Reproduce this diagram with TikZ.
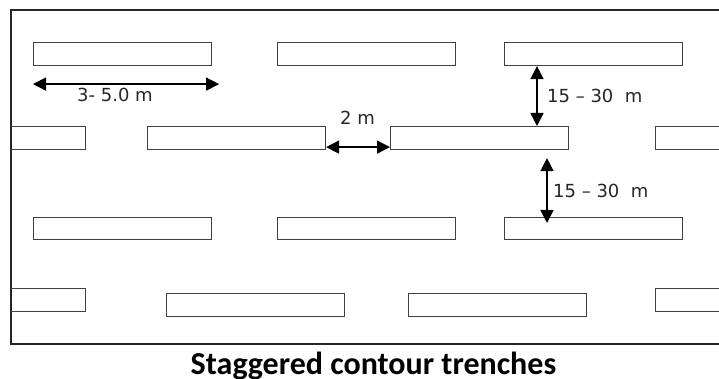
\documentclass[tikz,border=0pt]{standalone}
\usepackage{fontspec}
\setmainfont{DejaVu Sans}
\newfontfamily\captionfont{Carlito}
\usetikzlibrary{arrows.meta,positioning}

\begin{document}
\begin{tikzpicture}[
    x=1pt, y=-1pt,
    every node/.style={font=\fontsize{18}{20}\selectfont, inner sep=0pt},
    trench/.style={
      draw=black!75, line width=1.1pt,
      minimum width=178pt, minimum height=23pt,
      anchor=north west
    },
    boundary/.style={draw=black!85, line width=1.1pt},
    arrow/.style={
      {Triangle[length=13pt,width=13pt]}-{Triangle[length=13pt,width=13pt]},
      line width=1.5pt, black
    },
    dimlabel/.style={anchor=base west, text=black!85}
  ]
  \useasboundingbox (0,0) rectangle (719,379);
  \fill[white] (0,0) rectangle (719,379);

  % field boundary, open on the right
  \draw[boundary] (725,10) -- (11,10) -- (11,344) -- (725,344);

  \begin{scope}
    \clip (11,10) rectangle (719,344);
    % first line of trenches
    \node[trench] (r1a) at (33,42) {};
    \node[trench] (r1b) at (277,42) {};
    \node[trench] (r1c) at (504,42) {};
    % second line, shifted half a spacing
    \node[trench] (r2a) at (-93,126) {};
    \node[trench] (r2b) at (147,126) {};
    \node[trench] (r2c) at (390,126) {};
    \node[trench] (r2d) at (655,126) {};
    % third line
    \node[trench, minimum height=22pt] (r3a) at (33,217) {};
    \node[trench, minimum height=22pt] (r3b) at (277,217) {};
    \node[trench, minimum height=22pt] (r3c) at (504,217) {};
    % fourth line
    \node[trench] (r4a) at (-93,288) {};
    \node[trench] (r4b) at (166,293) {};
    \node[trench] (r4c) at (408,293) {};
    \node[trench] (r4d) at (655,288) {};
  \end{scope}

  % trench length
  \draw[arrow] ([yshift=-18pt]r1a.south west) -- ([shift={(7pt,-18pt)}]r1a.south east);
  \node[dimlabel] (len) at (77,102) {3- 5.0 m};

  % gap along the contour
  \draw[arrow] ([yshift=3pt]r2b.south east) -- ([yshift=3pt]r2c.south west);
  \node[dimlabel] (gap) at (340,125) {2 m};

  % spacing between lines
  \coordinate (up) at ([xshift=33pt]r1c.south west);
  \draw[arrow] (up) -- (up |- r2c.north);
  \node[dimlabel] (sp1) at (547,103) {15 – 30\ \ m};

  \coordinate (lo) at ([xshift=43pt]r3c.north west);
  \path (lo |- r2c.south) coordinate (lotop);
  \draw[arrow] ([yshift=-8pt]lotop) -- ([yshift=-6pt]lo);
  \node[dimlabel] (sp2) at (553,197) {15 – 30\ \ m};

  \node[font=\captionfont\bfseries\fontsize{32}{36}\selectfont, anchor=base]
    (title) at (373.5,374) {Staggered contour trenches};
\end{tikzpicture}
\end{document}
